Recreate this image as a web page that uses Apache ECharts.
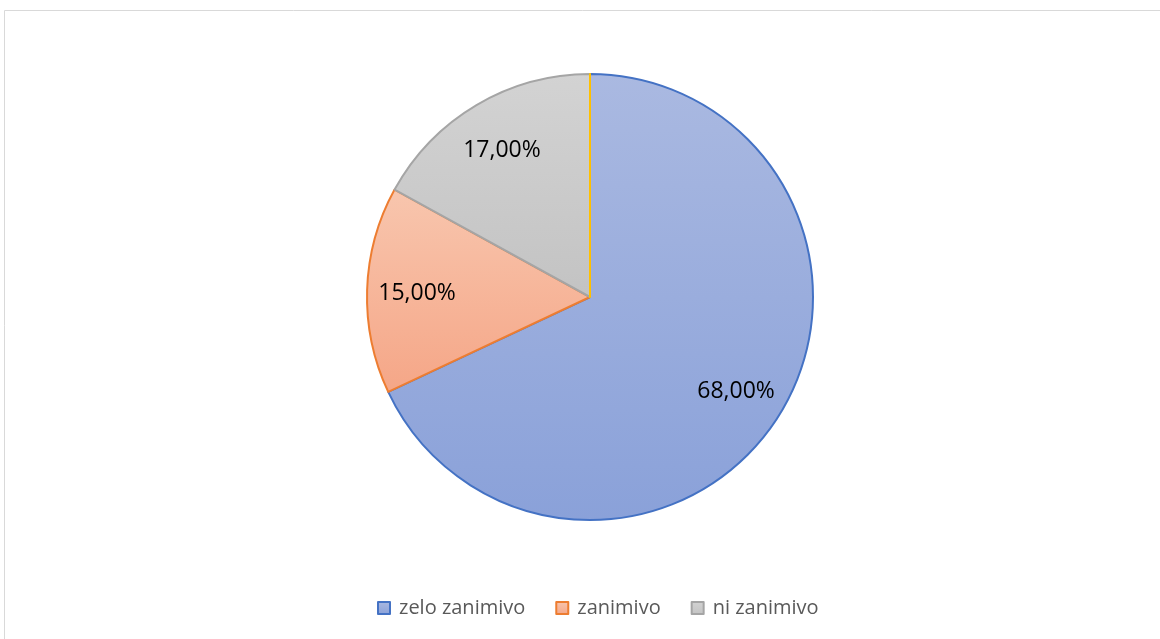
<!DOCTYPE html>
<html>
<head>
<meta charset="utf-8">
<script src="https://cdn.jsdelivr.net/npm/echarts@6/dist/echarts.min.js"></script>
<style>
  html, body { margin: 0; padding: 0; background: #fff; }
  #chart { width: 1160px; height: 639px; }
</style>
</head>
<body>
<div id="chart"></div>
<script>
// Categories and shares (percent)
const categories = ['zelo zanimivo', 'zanimivo', 'ni zanimivo', ''];
const shares = [68, 15, 17, 0];
const legendNames = ['zelo zanimivo', 'zanimivo', 'ni zanimivo'];

const fills = [
  ['#AAB9E1', '#8AA1D9'],
  ['#F8C6AE', '#F5A687'],
  ['#D3D3D3', '#C3C3C3'],
  ['#FFD966', '#FFC000']
];
const strokes = ['#4472C4', '#ED7D31', '#A5A5A5', '#FFC000'];

const grad = (c) => new echarts.graphic.LinearGradient(0, 0, 0, 1, [
  { offset: 0, color: c[0] }, { offset: 1, color: c[1] }
]);

const fmt = (v) => v.toFixed(2).replace('.', ',') + '%';

const sliceData = categories.map((name, i) => ({
  name: name || 'ostalo',
  value: shares[i],
  itemStyle: { color: grad(fills[i]), borderColor: strokes[i], borderWidth: 2 }
}));

const labelData = categories.map((name, i) => ({
  name: name || 'ostalo',
  value: shares[i],
  label: { show: shares[i] > 0 }
}));

const chart = echarts.init(document.getElementById('chart'), null, { renderer: 'canvas' });
chart.setOption({
  animation: false,
  graphic: [{
    type: 'rect',
    silent: true,
    shape: { x: 4.5, y: 10.5, width: 1200, height: 700 },
    style: { fill: 'none', stroke: '#D9D9D9', lineWidth: 1 }
  }],
  legend: {
    data: legendNames,
    bottom: 16,
    left: 372,
    itemWidth: 12,
    itemHeight: 12,
    itemGap: 30,
    icon: 'rect',
    textStyle: { color: '#595959', fontSize: 20, fontFamily: 'Open Sans', padding: [0, 0, 0, 4] }
  },
  series: [
    {
      type: 'pie',
      center: [590, 297],
      radius: [0, 223],
      startAngle: 90,
      clockwise: true,
      stillShowZeroSum: true,
      minAngle: 0,
      label: { show: false },
      labelLine: { show: false },
      emphasis: { disabled: true },
      data: sliceData
    },
    {
      type: 'pie',
      center: [590, 299],
      radius: [116, 224],
      startAngle: 90,
      clockwise: true,
      silent: true,
      itemStyle: { color: 'rgba(0,0,0,0)', borderWidth: 0 },
      label: {
        position: 'inside',
        color: '#000',
        fontSize: 23,
        fontFamily: 'Open Sans',
        formatter: (p) => fmt(p.value)
      },
      labelLine: { show: false },
      emphasis: { disabled: true },
      data: labelData
    }
  ]
});
</script>
</body>
</html>
